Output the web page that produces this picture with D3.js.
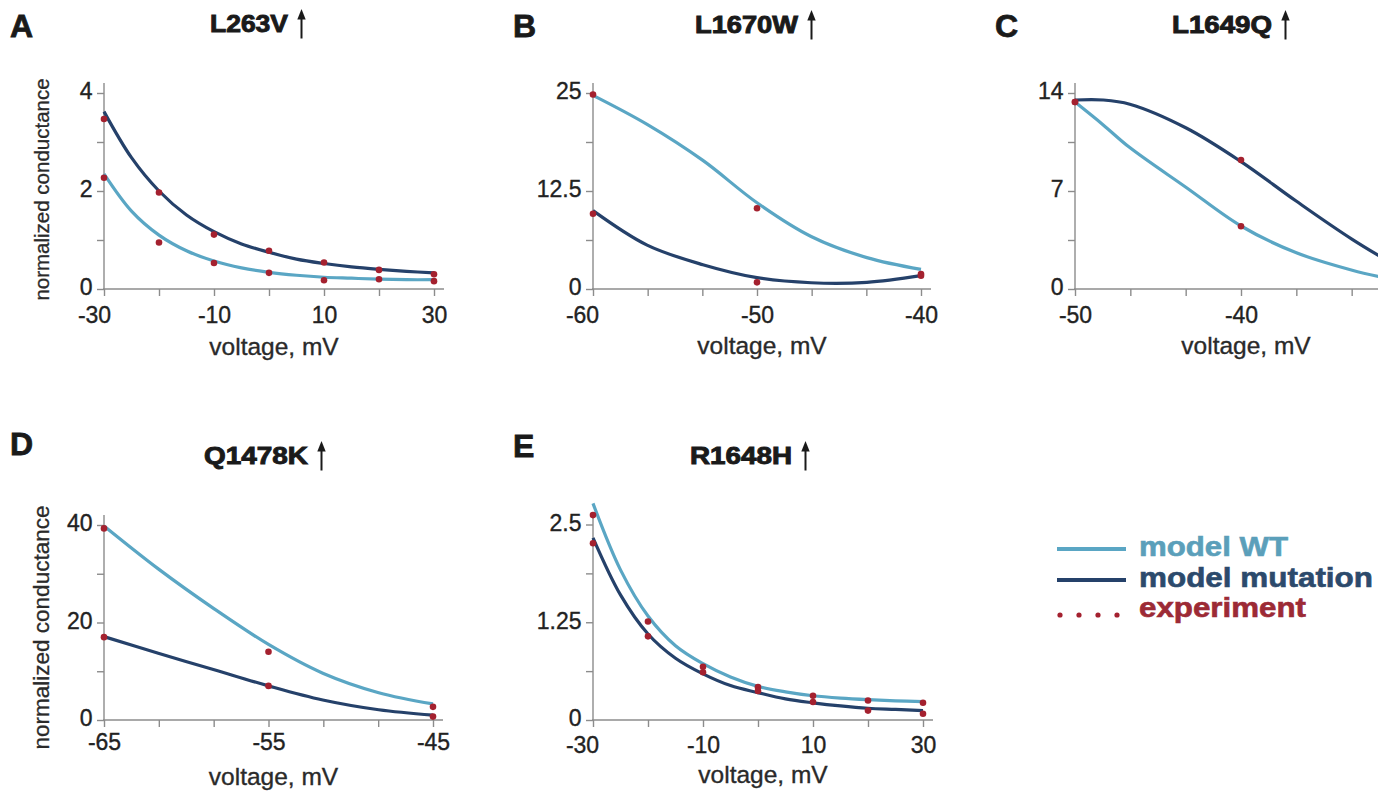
<!DOCTYPE html>
<html><head><meta charset="utf-8">
<script src="https://cdn.jsdelivr.net/npm/d3@7"></script>
<style>
body{margin:0;background:#fff;}
svg{display:block;font-family:"Liberation Sans",Arial,Helvetica,sans-serif;}
</style>
</head><body>
<svg id="chart" width="1393" height="793"></svg>
<script>
// ---------------- DATA ----------------
const panelLetters = ["A","B","C","D","E"];
const panelTitles = ["L263V","L1670W","L1649Q","Q1478K","R1648H"];
const legendLabels = ["model WT","model mutation","experiment"];
const xAxisTitle = "voltage, mV";
const yAxisTitle = "normalized conductance";

// A: L263V
const voltModelA = [-30,-25,-20,-15,-10,-5,0,5,10,15,20,25,30];
const wtModelA   = [2.35,1.59,1.10,0.78,0.57,0.43,0.34,0.28,0.24,0.22,0.20,0.19,0.19];
const mutModelA  = [3.62,2.68,2.00,1.51,1.17,0.92,0.75,0.61,0.52,0.45,0.40,0.36,0.33];
const voltExpA = [-30,-20,-10,0,10,20,30];
const wtExpA   = [2.27,0.95,0.53,0.33,0.18,0.20,0.16];
const mutExpA  = [3.47,1.97,1.11,0.78,0.54,0.39,0.30];
const xTicksA = [-30,-20,-10,0,10,20,30];
const xLabelsA = [-30,-10,10,30];
const yTicksA = [0,1,2,3,4];
const yLabelsA = [0,2,4];

// B: L1670W
const voltModelB = [-60,-56.7,-53.3,-50,-46.7,-43.3,-40];
const wtModelB   = [24.7,21.0,16.4,11.0,6.7,4.0,2.5];
const mutModelB  = [10.0,5.6,3.1,1.45,0.8,0.85,1.7];
const voltExpB = [-60,-50,-40];
const wtExpB   = [24.8,10.3,1.9];
const mutExpB  = [9.6,0.85,1.7];
const xTicksB = [-60,-56.667,-53.333,-50,-46.667,-43.333,-40];
const xLabelsB = [-60,-50,-40];
const yTicksB = [0,6.25,12.5,18.75,25];
const yLabelsB = [0,12.5,25];

// C: L1649Q
const voltModelC = [-50,-48.3,-46.7,-43.3,-40,-36.7,-33.3,-30];
const wtModelC   = [13.35,11.72,10.1,7.25,4.5,2.6,1.34,0.45];
const mutModelC  = [13.5,13.5,13.2,11.5,9.1,6.3,3.55,1.2];
const voltExpC = [-50,-40];
const wtExpC   = [13.36,4.48];
const mutExpC  = [13.36,9.21];
const xTicksC = [-50,-46.667,-43.333,-40,-36.667,-33.333,-30];
const xLabelsC = [-50,-40];
const yTicksC = [0,3.5,7,10.5,14];
const yLabelsC = [0,7,14];

// D: Q1478K
const voltModelD = [-65,-61.7,-58.3,-55,-51.7,-48.3,-45];
const wtModelD   = [39.8,31.0,22.8,15.5,9.6,5.6,3.3];
const mutModelD  = [17.1,13.7,10.3,7.0,4.1,2.1,1.0];
const voltExpD = [-65,-55,-45];
const wtExpD   = [39.3,14.0,2.7];
const mutExpD  = [17.0,7.0,0.7];
const xTicksD = [-65,-61.667,-58.333,-55,-51.667,-48.333,-45];
const xLabelsD = [-65,-55,-45];
const yTicksD = [0,10,20,30,40];
const yLabelsD = [0,20,40];

// E: R1648H
const voltModelE = [-30,-25,-20,-15,-10,-5,0,5,10,15,20,25,30];
const wtModelE   = [2.77,1.92,1.33,0.95,0.72,0.55,0.43,0.36,0.31,0.28,0.26,0.245,0.235];
const mutModelE  = [2.33,1.60,1.10,0.79,0.59,0.44,0.35,0.27,0.22,0.18,0.15,0.135,0.12];
const voltExpE = [-30,-20,-10,0,10,20,30];
const wtExpE   = [2.62,1.26,0.68,0.42,0.31,0.25,0.22];
const mutExpE  = [2.26,1.07,0.61,0.37,0.23,0.12,0.08];
const xTicksE = [-30,-20,-10,0,10,20,30];
const xLabelsE = [-30,-10,10,30];
const yTicksE = [0,0.625,1.25,1.875,2.5];
const yLabelsE = [0,1.25,2.5];

// ---------------- STYLE / LAYOUT ----------------
const colWT = "#5aa6c4", colMut = "#25416a", colExp = "#a4212f", axisCol = "#8c8c8c";
const txtCol = "#222";

const panels = [
  {letter:panelLetters[0], title:panelTitles[0], vm:voltModelA, wm:wtModelA, mm:mutModelA, ve:voltExpA, we:wtExpA, me:mutExpA,
   xt:xTicksA, xl:xLabelsA, yt:yTicksA, yl:yLabelsA,
   L:{x0:104,x1:434,yTop:93,yBot:289,axisTop:83,xLabBase:323,xTitleBase:355,firstDx:-10,
      titleX:210,titleY:32,titleW:78,letterX:10,letterY:37,yTitle:{x:49,y:189.5,fs:20.5}}},
  {letter:panelLetters[1], title:panelTitles[1], vm:voltModelB, wm:wtModelB, mm:mutModelB, ve:voltExpB, we:wtExpB, me:mutExpB,
   xt:xTicksB, xl:xLabelsB, yt:yTicksB, yl:yLabelsB,
   L:{x0:593,x1:921,yTop:93,yBot:289,axisTop:83,xLabBase:323,xTitleBase:354,firstDx:-11,
      titleX:695,titleY:33,titleW:103,letterX:513,letterY:37}},
  {letter:panelLetters[2], title:panelTitles[2], vm:voltModelC, wm:wtModelC, mm:mutModelC, ve:voltExpC, we:wtExpC, me:mutExpC,
   xt:xTicksC, xl:xLabelsC, yt:yTicksC, yl:yLabelsC,
   L:{x0:1075,x1:1407,yTop:93,yBot:289,axisTop:83,xLabBase:323,xTitleBase:354,firstDx:0,clipRight:1378,
      titleX:1172,titleY:33,titleW:100,letterX:995,letterY:37}},
  {letter:panelLetters[3], title:panelTitles[3], vm:voltModelD, wm:wtModelD, mm:mutModelD, ve:voltExpD, we:wtExpD, me:mutExpD,
   xt:xTicksD, xl:xLabelsD, yt:yTicksD, yl:yLabelsD,
   L:{x0:104,x1:433,yTop:525,yBot:720,axisTop:515,xLabBase:750,xTitleBase:785,firstDx:0,
      titleX:204,titleY:464,titleW:104,letterX:10,letterY:455,yTitle:{x:49,y:627.5,fs:22.5}}},
  {letter:panelLetters[4], title:panelTitles[4], vm:voltModelE, wm:wtModelE, mm:mutModelE, ve:voltExpE, we:wtExpE, me:mutExpE,
   xt:xTicksE, xl:xLabelsE, yt:yTicksE, yl:yLabelsE,
   L:{x0:593,x1:923,yTop:524.5,yBot:720,axisTop:512,xLabBase:753,xTitleBase:783,firstDx:-11,
      titleX:690,titleY:464,titleW:102,letterX:513,letterY:457}}
];

const svg = d3.select("#chart");
const defs = svg.append("defs");

function isIn(arr, d){ return arr.some(v => Math.abs(v - d) < 1e-6); }
function heavy(sel, col, w){ return sel.attr("stroke", col).attr("stroke-width", w).attr("paint-order", "stroke"); }

panels.forEach((p, idx) => {
  const L = p.L;
  let g = svg.append("g");
  if (L.clipRight) {
    defs.append("clipPath").attr("id","clip"+idx)
      .append("rect").attr("x",0).attr("y",0).attr("width",L.clipRight).attr("height",793);
    g = g.attr("clip-path","url(#clip"+idx+")").append("g");
  }
  const x = d3.scaleLinear().domain([p.xt[0], p.xt[p.xt.length-1]]).range([L.x0, L.x1]);
  const y = d3.scaleLinear().domain([0, p.yt[p.yt.length-1]]).range([L.yBot, L.yTop]);

  // axis lines
  g.append("line").attr("x1", L.x0 - 1).attr("x2", L.x1 + 10).attr("y1", L.yBot).attr("y2", L.yBot)
    .attr("stroke", axisCol).attr("stroke-width", 1.4);
  g.append("line").attr("x1", L.x0).attr("x2", L.x0).attr("y1", L.axisTop).attr("y2", L.yBot)
    .attr("stroke", axisCol).attr("stroke-width", 1.4);

  // x axis ticks
  const gx = g.append("g").attr("transform", `translate(0,${L.yBot})`)
    .call(d3.axisBottom(x).tickValues(p.xt).tickSize(7).tickSizeOuter(0)
      .tickFormat(d => isIn(p.xl, d) ? String(Math.round(d)) : ""));
  gx.attr("font-size", null).attr("font-family", null);
  gx.select(".domain").remove();
  gx.selectAll(".tick line").attr("stroke", axisCol).attr("stroke-width", 1.4);
  heavy(gx.selectAll(".tick text").attr("y", L.xLabBase - L.yBot).attr("dy", 0)
    .attr("dx", (d, i) => i === 0 ? L.firstDx : 0)
    .attr("font-size", 23).attr("fill", txtCol), txtCol, 0.35);

  // y axis ticks
  const gy = g.append("g").attr("transform", `translate(${L.x0},0)`)
    .call(d3.axisLeft(y).tickValues(p.yt).tickSize(7).tickSizeOuter(0)
      .tickFormat(d => isIn(p.yl, d) ? String(d) : ""));
  gy.attr("font-size", null).attr("font-family", null);
  gy.select(".domain").remove();
  gy.selectAll(".tick line").attr("stroke", axisCol).attr("stroke-width", 1.4);
  heavy(gy.selectAll(".tick text").attr("x", -11.5).attr("dy", 5.8)
    .attr("font-size", 23).attr("fill", txtCol), txtCol, 0.35);

  // curves
  const line = d3.line().x(d => x(d[0])).y(d => y(d[1])).curve(d3.curveCatmullRom.alpha(0.5));
  g.append("path").datum(d3.zip(p.vm, p.wm)).attr("d", line)
    .attr("fill", "none").attr("stroke", colWT).attr("stroke-width", 3.2);
  g.append("path").datum(d3.zip(p.vm, p.mm)).attr("d", line)
    .attr("fill", "none").attr("stroke", colMut).attr("stroke-width", 3.2);

  // experiment dots
  const pts = d3.zip(p.ve, p.we).concat(d3.zip(p.ve, p.me));
  g.selectAll("circle.exp").data(pts).join("circle").attr("class","exp")
    .attr("cx", d => x(d[0])).attr("cy", d => y(d[1])).attr("r", 3.3).attr("fill", colExp);

  // x title
  heavy(g.append("text").attr("x", (L.x0 + L.x1 + 10) / 2).attr("y", L.xTitleBase)
    .attr("text-anchor", "middle").attr("font-size", 24.5).attr("fill", "#2a2a2a").text(xAxisTitle), "#2a2a2a", 0.35);

  // y title
  if (L.yTitle) {
    heavy(svg.append("text").attr("transform", `translate(${L.yTitle.x},${L.yTitle.y}) rotate(-90)`)
      .attr("text-anchor", "middle").attr("font-size", L.yTitle.fs).attr("fill", "#2a2a2a").text(yAxisTitle), "#2a2a2a", 0.3);
  }

  // panel letter
  heavy(svg.append("text").attr("x", L.letterX).attr("y", L.letterY)
    .attr("font-size", 32).attr("font-weight", "bold").attr("fill", "#1a1a1a").text(p.letter), "#1a1a1a", 0.8);

  // title with arrow
  heavy(svg.append("text").attr("x", L.titleX).attr("y", L.titleY)
    .attr("font-size", 23).attr("font-weight", "bold").attr("fill", "#1a1a1a")
    .attr("textLength", L.titleW).attr("lengthAdjust", "spacingAndGlyphs").text(p.title), "#1a1a1a", 0.9);
  const ax = L.titleX + L.titleW + 13.5;
  svg.append("line").attr("x1", ax).attr("x2", ax).attr("y1", L.titleY - 16).attr("y2", L.titleY + 6.5)
    .attr("stroke", "#1a1a1a").attr("stroke-width", 2);
  svg.append("path").attr("d", `M${ax-4.2},${L.titleY-12.5} L${ax},${L.titleY-23} L${ax+4.2},${L.titleY-12.5} Z`)
    .attr("fill", "#1a1a1a");
});

// ---------------- LEGEND ----------------
const lg = svg.append("g");
const legendColors = [colWT, colMut, colExp];
const legendLineY = [549, 580];
const legendTextY = [556, 587, 617];
const legendTextW = [149, 234, 167];
legendLineY.forEach((yy, i) => {
  lg.append("line").attr("x1", 1057).attr("x2", 1126).attr("y1", yy).attr("y2", yy)
    .attr("stroke", legendColors[i]).attr("stroke-width", 4.2);
});
[1060, 1079, 1098, 1117].forEach(cx => {
  lg.append("circle").attr("cx", cx).attr("cy", 615).attr("r", 2.6).attr("fill", colExp);
});
const legendTextColors = ["#5b9fba", "#2c4a6c", "#9c2a35"];
legendLabels.forEach((t, i) => {
  heavy(lg.append("text").attr("x", 1139).attr("y", legendTextY[i])
    .attr("font-size", 27).attr("font-weight", "bold").attr("fill", legendTextColors[i])
    .attr("textLength", legendTextW[i]).attr("lengthAdjust", "spacingAndGlyphs").text(t), legendTextColors[i], 0.6);
});
</script>
</body></html>
